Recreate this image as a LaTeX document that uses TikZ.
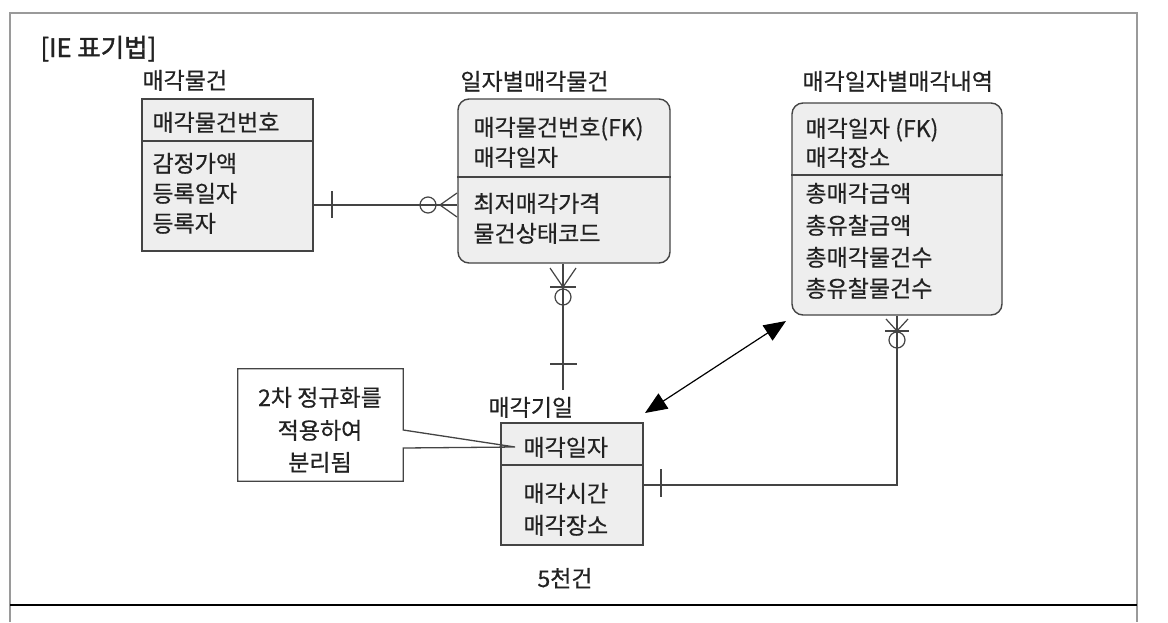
\documentclass[tikz,border=0pt]{standalone}
\usepackage{fontspec}
\setmainfont{Noto Sans CJK KR}
\newfontfamily\kfont[FakeBold=0.5]{Noto Sans CJK KR}
\newfontfamily\hfont[FakeBold=1.5]{Noto Sans CJK KR}
\usetikzlibrary{arrows.meta,calc}
\definecolor{boxfill}{HTML}{EEEEEE}
\definecolor{linec}{HTML}{444444}
\definecolor{framec}{HTML}{9A9A9A}
\definecolor{txt}{HTML}{222222}
\tikzset{bigtri/.tip={Triangle[length=22pt,width=18pt]}}
\begin{document}
\begin{tikzpicture}[x=1pt,y=-1pt,
  ent/.style={draw=linec, line width=1.4pt, fill=boxfill, inner sep=0pt},
  rent/.style={ent, rounded corners=11pt},
  divider/.style={draw=linec, line width=1.4pt},
  lbl/.style={anchor=base west, inner sep=0pt, text=txt, font=\kfont, scale=2.3},
  hdlbl/.style={anchor=base west, inner sep=0pt, text=txt, font=\hfont, scale=2.55},
  ctr/.style={lbl, anchor=base},
  conn/.style={draw=linec, line width=1.2pt},
]
\useasboundingbox (0,0) rectangle (1168,622);
\fill[white] (0,0) rectangle (1168,622);

% frame
\draw[framec, line width=1.5pt] (10,622) -- (10,13) -- (1137,13) -- (1137,622);
\draw[black, line width=1.8pt] (10,605) -- (1137,605);

% heading
\node[hdlbl] (hd) at (40,57) {[IE 표기법]};

% entity 1
\node[ent, minimum width=171pt, minimum height=152pt] (e1) at (227.5,175) {};
\draw[divider] (e1.west |- 0,141) -- (e1.east |- 0,141);
\node[lbl] (e1t) at (142,89) {매각물건};
\node[lbl] (e1k) at (152,131) {매각물건번호};
\node[lbl] (e1a) at (152,172) {감정가액};
\node[lbl] (e1b) at (152,202) {등록일자};
\node[lbl] (e1c) at (152,232) {등록자};

% entity 2
\node[rent, minimum width=212pt, minimum height=164pt] (e2) at (564,181) {};
\draw[divider] (e2.west |- 0,177) -- (e2.east |- 0,177);
\node[lbl] (e2t) at (460,90) {일자별매각물건};
\node[lbl] (e2k1) at (473,136) {매각물건번호(FK)};
\node[lbl] (e2k2) at (473,166) {매각일자};
\node[lbl] (e2a) at (473,212) {최저매각가격};
\node[lbl] (e2b) at (473,242) {물건상태코드};

% entity 3
\node[rent, minimum width=210pt, minimum height=212pt] (e3) at (897,209) {};
\draw[divider] (e3.west |- 0,175) -- (e3.east |- 0,175);
\node[lbl] (e3t) at (802,90) {매각일자별매각내역};
\node[lbl] (e3k1) at (805,137) {매각일자 (FK)};
\node[lbl] (e3k2) at (805,166) {매각장소};
\node[lbl] (e3a) at (805,202) {총매각금액};
\node[lbl] (e3b) at (805,234) {총유찰금액};
\node[lbl] (e3c) at (805,266) {총매각물건수};
\node[lbl] (e3d) at (805,297) {총유찰물건수};

% entity 4
\node[ent, minimum width=142pt, minimum height=122pt] (e4) at (572,484) {};
\draw[divider] (e4.west |- 0,465) -- (e4.east |- 0,465);
\node[lbl] (e4t) at (488,416) {매각기일};
\node[lbl] (e4k) at (523,456) {매각일자};
\node[lbl] (e4a) at (523,502) {매각시간};
\node[lbl] (e4b) at (523,534) {매각장소};
\node[ctr] (e4n) at (565,587) {5천건};

% note callout
\node[minimum width=165pt, minimum height=112pt, inner sep=0pt] (note) at (320.5,425) {};
\coordinate (ntip) at (515,447);
\draw[draw=linec, line width=1.3pt] (note.north west) -- (note.north east) -- (note.east |- 0,430) -- (ntip) -- (note.east |- 0,448) -- (note.south east) -- (note.south west) -- cycle;
\node[ctr] (n1) at (320,406) {2차 정규화를};
\node[ctr] (n2) at (320,439) {적용하여};
\node[ctr] (n3) at (320,471) {분리됨};

% relationship e1 - e2
\draw[conn] (e1.east |- 0,205) -- (e2.west |- 0,205);
\draw[conn] (332,191) -- (332,218);
\draw[conn] (428,205) circle (8pt);
\draw[conn] (457,193) -- (440,205) -- (457,217);

% relationship e2 - e4
\coordinate (c2e) at (563,390);
\draw[conn] (e2.south -| c2e) -- (c2e);
\draw[conn] (550,268) -- (563,287) -- (576,268);
\draw[conn] (550,287) -- (576,287);
\draw[conn] (563,297) circle (8pt);
\draw[conn] (550,364) -- (577,364);

% relationship e3 - e4
\draw[conn] (e3.south) -- (e3.south |- 0,485) -- (e4.east |- 0,485);
\draw[conn] (886,319) -- (897,331) -- (908,319);
\draw[conn] (885,331) -- (909,331);
\draw[conn] (897,340) circle (8pt);
\draw[conn] (661,469) -- (661,497);

% double arrow
\coordinate (a1) at (645,413);
\coordinate (a2) at (786,321);
\draw[black, line width=1.2pt, bigtri-bigtri] (a1) -- (a2);
\end{tikzpicture}
\end{document}
